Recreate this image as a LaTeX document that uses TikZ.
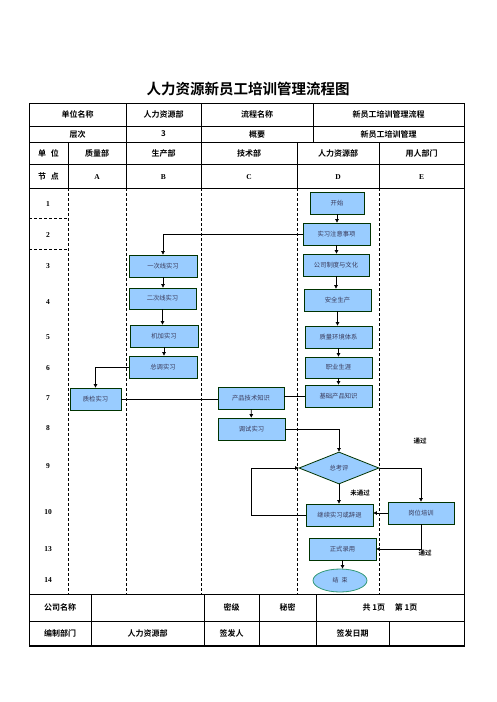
\documentclass[tikz,border=0pt]{standalone}
\usepackage{fontspec}
\setmainfont{Liberation Serif}
\newfontfamily\cjk{Noto Sans CJK SC}[BoldFont={Noto Sans CJK SC Bold}]
\usetikzlibrary{shapes.geometric,arrows.meta}
\definecolor{boxfill}{HTML}{99CCFF}
\definecolor{boxline}{HTML}{003300}
\definecolor{boxtext}{HTML}{3A3A5A}
\definecolor{ellline}{HTML}{339977}
\tikzset{
  proc/.style={draw=boxline,line width=0.8pt,fill=boxfill,inner sep=0pt,text=boxtext,font=\cjk\fontsize{6.3}{7}\selectfont},
  dec/.style={diamond,draw=boxline,line width=0.8pt,fill=boxfill,inner sep=0pt,text=boxtext,font=\cjk\fontsize{6.3}{7}\selectfont,aspect=2.5},
  term/.style={ellipse,draw=ellline,line width=0.8pt,fill=boxfill,inner sep=0pt,text=boxtext,font=\cjk\fontsize{6}{7}\selectfont},
  flow/.style={line width=0.7pt,-{Triangle[length=3.5pt,width=3.5pt]}},
  plain/.style={line width=0.7pt},
  grid/.style={line width=0.8pt},
  lane/.style={line width=0.7pt,dash pattern=on 3pt off 2pt},
  hdr/.style={font=\cjk\bfseries\fontsize{8}{9}\selectfont},
  lbl/.style={font=\bfseries\fontsize{7.5}{8}\selectfont},
  note/.style={font=\cjk\bfseries\fontsize{6.5}{7}\selectfont}
}
\begin{document}
\begin{tikzpicture}[x=1pt,y=-1pt]
\useasboundingbox (0,0) rectangle (496,702);
% title
\node[font=\cjk\bfseries\fontsize{14.5}{16}\selectfont] (title) at (248,89) {人力资源新员工培训管理流程图};
% outer frame
\draw[grid] (29,103) rectangle (464,646);
\draw[line width=1.6pt] (29,646) -- (464,646);
% header rows
\draw[grid] (29,126) -- (464,126);
\draw[grid] (29,142) -- (464,142);
\draw[grid] (29,164) -- (464,164);
\draw[grid] (29,188) -- (464,188);
\draw[grid] (126,103) -- (126,188);
\draw[grid] (201,103) -- (201,188);
\draw[grid] (313,103) -- (313,142);
\draw[grid] (68,142) -- (68,188);
\draw[grid] (297,142) -- (297,188);
\draw[grid] (379,142) -- (379,188);
% header text
\node[hdr] (h1) at (77.5,114.5) {单位名称};
\node[hdr] (h2) at (163.5,114.5) {人力资源部};
\node[hdr] (h3) at (257,114.5) {流程名称};
\node[hdr] (h4) at (388.5,114.5) {新员工培训管理流程};
\node[hdr] (h5) at (77.5,134) {层次};
\node[hdr] (h6) at (163.5,134) {3};
\node[hdr] (h7) at (257,134) {概要};
\node[hdr] (h8) at (388.5,134) {新员工培训管理};
\node[hdr] (h9) at (48.5,153) {单\hspace{0.6em}位};
\node[hdr] (h10) at (97,153) {质量部};
\node[hdr] (h11) at (163.5,153) {生产部};
\node[hdr] (h12) at (249,153) {技术部};
\node[hdr] (h13) at (338,153) {人力资源部};
\node[hdr] (h14) at (421.5,153) {用人部门};
\node[hdr] (h15) at (48.5,176) {节\hspace{0.6em}点};
\node[lbl] (la) at (97,177) {A};
\node[lbl] (lb) at (163.5,177) {B};
\node[lbl] (lc) at (249,177) {C};
\node[lbl] (ld) at (338,177) {D};
\node[lbl] (le) at (421.5,177) {E};
% lanes
\foreach \x in {68,126,201,297,379} \draw[lane] (\x,188) -- (\x,594);
\draw[lane] (29,218) -- (68,218);
\draw[lane] (29,249) -- (68,249);
% row numbers
\node[lbl] (r1) at (48,204) {1};
\node[lbl] (r2) at (48,235) {2};
\node[lbl] (r3) at (48,266) {3};
\node[lbl] (r4) at (48,302) {4};
\node[lbl] (r5) at (48,337) {5};
\node[lbl] (r6) at (48,368) {6};
\node[lbl] (r7) at (48,398) {7};
\node[lbl] (r8) at (48,428) {8};
\node[lbl] (r9) at (48,466) {9};
\node[lbl] (r10) at (48,512) {10};
\node[lbl] (r13) at (48,549) {13};
\node[lbl] (r14) at (48,580) {14};
% footer
\draw[grid] (29,594) -- (464,594);
\draw[grid] (29,621) -- (464,621);
\draw[grid] (91,594) -- (91,646);
\draw[grid] (204,594) -- (204,646);
\draw[grid] (259,594) -- (259,646);
\draw[grid] (316,594) -- (316,646);
\draw[grid] (389,621) -- (389,646);
\node[hdr] (f1) at (60,607.5) {公司名称};
\node[hdr] (f2) at (231.5,607.5) {密级};
\node[hdr] (f3) at (287.5,607.5) {秘密};
\node[hdr] (f4) at (390,607.5) {共 1页\hspace{1.2em}第 1页};
\node[hdr] (f5) at (60,633.5) {编制部门};
\node[hdr] (f6) at (147.5,633.5) {人力资源部};
\node[hdr] (f7) at (231.5,633.5) {签发人};
\node[hdr] (f8) at (352.5,633.5) {签发日期};
% process boxes (D)
\node[proc,minimum width=54pt,minimum height=22pt] (start) at (337,203) {开始};
\node[proc,minimum width=67pt,minimum height=22pt] (zysx) at (336.5,234) {实习注意事项};
\node[proc,minimum width=66pt,minimum height=22pt] (gszd) at (336,265) {公司制度与文化};
\node[proc,minimum width=67pt,minimum height=22pt] (aqsc) at (337.5,300) {安全生产};
\node[proc,minimum width=67pt,minimum height=22pt] (zlhj) at (338.5,337) {质量环境体系};
\node[proc,minimum width=67pt,minimum height=21pt] (zysy) at (338.5,367.5) {职业生涯};
\node[proc,minimum width=67pt,minimum height=22pt] (jccp) at (338.5,396) {基础产品知识};
% B
\node[proc,minimum width=68pt,minimum height=22pt] (ycx) at (163,266) {一次线实习};
\node[proc,minimum width=67pt,minimum height=21pt] (ecx) at (162.5,298.5) {二次线实习};
\node[proc,minimum width=68pt,minimum height=22pt] (jjsx) at (164,336) {机加实习};
\node[proc,minimum width=68pt,minimum height=22pt] (ztsx) at (163,367) {总调实习};
% A
\node[proc,minimum width=51pt,minimum height=22pt] (zjsx) at (95.5,399) {质检实习};
% C
\node[proc,minimum width=66pt,minimum height=22pt] (cpjs) at (251,398) {产品技术知识};
\node[proc,minimum width=67pt,minimum height=22pt] (tssx) at (251.5,429) {调试实习};
% decision and rest
\node[dec,minimum width=80pt,minimum height=32pt] (zkp) at (339,468) {总考评};
\node[proc,minimum width=67pt,minimum height=22pt] (jxsx) at (339.5,515) {继续实习或辞退};
\node[proc,minimum width=66pt,minimum height=22pt] (gwpx) at (421,513) {岗位培训};
\node[proc,minimum width=67pt,minimum height=22pt] (zsly) at (342.5,549) {正式录用};
\node[term,minimum width=54pt,minimum height=23pt] (end) at (340,580.5) {结\hspace{0.5em}束};
% labels
\node[note] (n1) at (420,441) {通过};
\node[note] (n2) at (360,493) {未通过};
\node[note] (n3) at (425,553) {通过};
% connectors
\draw[flow] (start.south) -- (start.south |- zysx.north);
\draw[flow] (zysx.south) -- (zysx.south |- gszd.north);
\draw[flow] (gszd.south) -- (gszd.south |- aqsc.north);
\draw[flow] (aqsc.south) -- (aqsc.south |- zlhj.north);
\draw[flow] (zlhj.south) -- (zlhj.south |- zysy.north);
\draw[flow] (zysy.south) -- (zysy.south |- jccp.north);
\draw[flow] (zysx.west) -| (ycx.north);
\draw[flow] (ycx.south) -- (ycx.south |- ecx.north);
\draw[flow] (ecx.south) -- (ecx.south |- jjsx.north);
\draw[flow] (jjsx.south) -- (jjsx.south |- ztsx.north);
\draw[flow] (ztsx.west) -| (zjsx.north);
\draw[plain] (zjsx.east) -- (cpjs.west |- zjsx.east);
\draw[plain] (cpjs.east |- jccp.west) -- (jccp.west);
\draw[flow] (cpjs) -- (tssx);
\draw[flow] (tssx.east) -| (zkp.north);
\draw[flow] (zkp.south) -- (zkp.south |- jxsx.north);
\draw[flow] (zkp.east) -| (gwpx.north);
\draw[flow] (gwpx.west) -- (jxsx.east |- gwpx.west);
\draw[flow] (jxsx.west) -- ++(-54,0) |- (zkp.west);
\draw[flow] (gwpx.south) |- (zsly.east);
\draw[flow] (zsly.south) -- (zsly.south |- end.north);
\end{tikzpicture}
\end{document}
